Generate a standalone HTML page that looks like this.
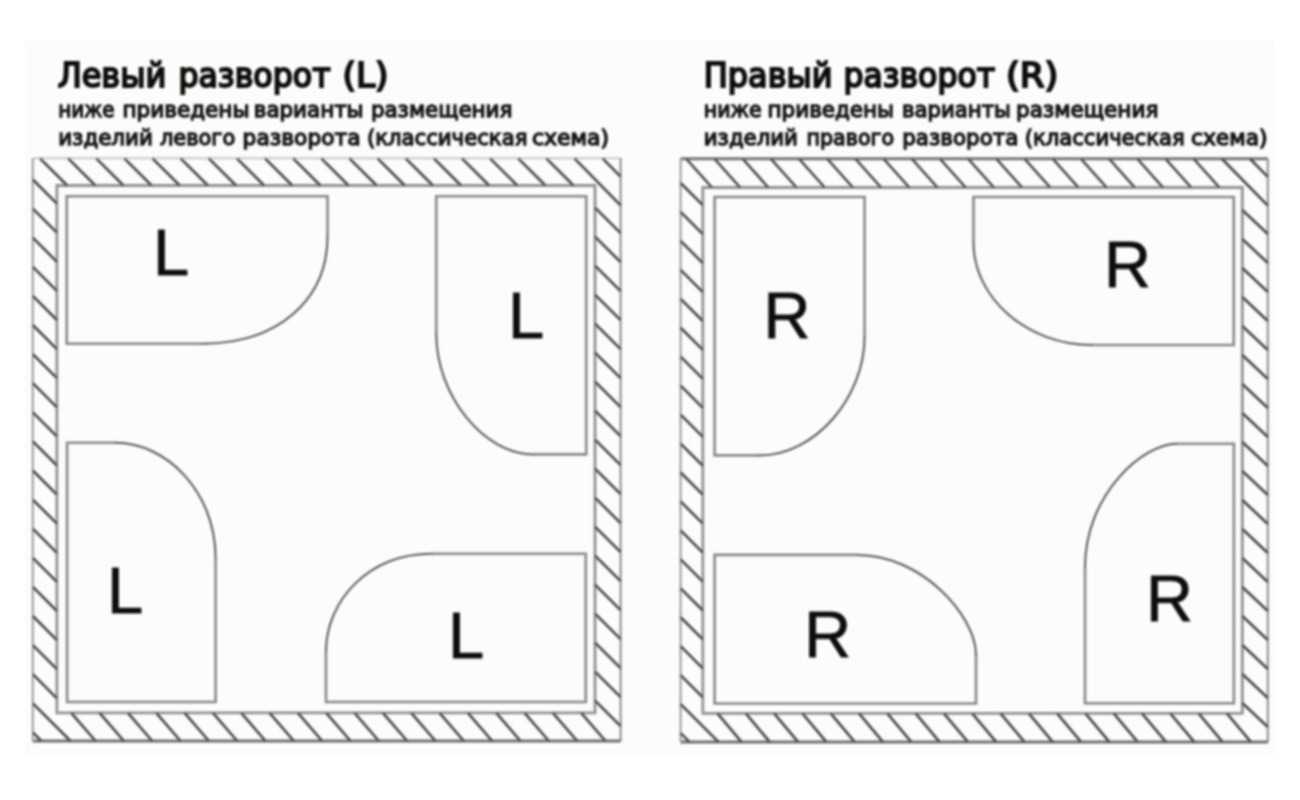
<!DOCTYPE html>
<html lang="ru">
<head>
<meta charset="utf-8">
<title>Левый и правый разворот</title>
<style>
html,body{margin:0;padding:0;background:#fff;}
body{width:1300px;height:800px;overflow:hidden;}
svg{display:block;}
.t{font-family:"DejaVu Sans","Liberation Sans",sans-serif;fill:#0c0c0c;}
.h1{font-size:33.4px;stroke:#0c0c0c;stroke-width:2.0px;}
.h2{font-size:21.8px;fill:#181818;stroke:#181818;stroke-width:1.35px;}
.big{font-family:"Liberation Sans",sans-serif;font-size:65px;fill:#111;stroke:#111;stroke-width:0.8px;}
</style>
</head>
<body>
<svg width="1300" height="800" viewBox="0 0 1300 800">
<defs>
<filter id="b1" x="-2%" y="-2%" width="104%" height="104%"><feGaussianBlur stdDeviation="1.0"/></filter>
<filter id="b2" x="-2%" y="-10%" width="104%" height="120%"><feGaussianBlur stdDeviation="0.95"/></filter>
</defs>
<rect x="0" y="0" width="1300" height="800" fill="#ffffff"/>
<rect x="25" y="41" width="1249" height="715" fill="#fcfcfa"/>

<g filter="url(#b1)" fill="none" stroke-linecap="butt">
<path d="M32.8,158.3 L620.6,158.3" stroke="#c8c8c8" stroke-width="2.0"/>
<path d="M620.6,158.3 L620.6,741" stroke="#8a8a8a" stroke-width="2.0"/>
<path d="M620.6,741 L32.8,741" stroke="#6e6e6e" stroke-width="3.0"/>
<path d="M32.8,741 L32.8,158.3" stroke="#9a9a9a" stroke-width="2.0"/>
<path d="M680.6,158.75 L1267.8,158.75" stroke="#777777" stroke-width="3.0"/>
<path d="M1267.8,158.75 L1267.8,741.9" stroke="#8a8a8a" stroke-width="2.0"/>
<path d="M1267.8,741.9 L680.6,741.9" stroke="#6e6e6e" stroke-width="3.0"/>
<path d="M680.6,741.9 L680.6,158.75" stroke="#9a9a9a" stroke-width="2.0"/>
<path d="M56.9,185.5 H595 V712.8 H56.9 Z" stroke="#929292" stroke-width="2.8"/>
<path d="M702.8,187.5 H1242.3 V713.4 H702.8 Z" stroke="#929292" stroke-width="2.8"/>
<path d="M40,158.3 L67.2,185.5 M68.13,158.3 L95.33,185.5 M96.26,158.3 L123.46,185.5 M124.39,158.3 L151.59,185.5 M152.52,158.3 L179.72,185.5 M180.65,158.3 L207.85,185.5 M208.78,158.3 L235.98,185.5 M236.91,158.3 L264.11,185.5 M265.04,158.3 L292.24,185.5 M293.17,158.3 L320.37,185.5 M321.3,158.3 L348.5,185.5 M349.43,158.3 L376.63,185.5 M377.56,158.3 L404.76,185.5 M405.69,158.3 L432.89,185.5 M433.82,158.3 L461.02,185.5 M461.95,158.3 L489.15,185.5 M490.08,158.3 L517.28,185.5 M518.21,158.3 L545.41,185.5 M546.34,158.3 L573.54,185.5 M574.47,158.3 L620.6,205.35 M602.6,158.3 L620.6,176.66 M32.8,179.5 L56.9,203.6 M32.8,208.6 L56.9,232.7 M32.8,237.7 L56.9,261.8 M32.8,266.8 L56.9,290.9 M32.8,295.9 L56.9,320 M32.8,325 L56.9,349.1 M32.8,354.1 L56.9,378.2 M32.8,383.2 L56.9,407.3 M32.8,412.3 L56.9,436.4 M32.8,441.4 L56.9,465.5 M32.8,470.5 L56.9,494.6 M32.8,499.6 L56.9,523.7 M32.8,528.7 L56.9,552.8 M32.8,557.8 L56.9,581.9 M32.8,586.9 L56.9,611 M32.8,616 L56.9,640.1 M32.8,645.1 L56.9,669.2 M32.8,674.2 L56.9,698.3 M32.8,703.3 L70.5,741 M32.8,732.4 L41.4,741 M71.25,712.8 L95.55,741 M99.58,712.8 L123.88,741 M127.91,712.8 L152.21,741 M156.24,712.8 L180.54,741 M184.57,712.8 L208.87,741 M212.9,712.8 L237.2,741 M241.23,712.8 L265.53,741 M269.56,712.8 L293.86,741 M297.89,712.8 L322.19,741 M326.22,712.8 L350.52,741 M354.55,712.8 L378.85,741 M382.88,712.8 L407.18,741 M411.21,712.8 L435.51,741 M439.54,712.8 L463.84,741 M467.87,712.8 L492.17,741 M496.2,712.8 L520.5,741 M524.53,712.8 L548.83,741 M552.86,712.8 L577.16,741 M581.19,712.8 L605.49,741 M595,207.6 L620.6,233.2 M595,236.6 L620.6,262.2 M595,265.6 L620.6,291.2 M595,294.6 L620.6,320.2 M595,323.6 L620.6,349.2 M595,352.6 L620.6,378.2 M595,381.6 L620.6,407.2 M595,410.6 L620.6,436.2 M595,439.6 L620.6,465.2 M595,468.6 L620.6,494.2 M595,497.6 L620.6,523.2 M595,526.6 L620.6,552.2 M595,555.6 L620.6,581.2 M595,584.6 L620.6,610.2 M595,613.6 L620.6,639.2 M595,642.6 L620.6,668.2 M595,671.6 L620.6,697.2 M595,700.6 L620.6,726.2" stroke="#484848" stroke-width="2.6"/>
<path d="M686.25,158.75 L711.92,187.5 M714.44,158.75 L740.11,187.5 M742.63,158.75 L768.3,187.5 M770.82,158.75 L796.49,187.5 M799.01,158.75 L824.68,187.5 M827.2,158.75 L852.87,187.5 M855.39,158.75 L881.06,187.5 M883.58,158.75 L909.25,187.5 M911.77,158.75 L937.44,187.5 M939.96,158.75 L965.63,187.5 M968.15,158.75 L993.82,187.5 M996.34,158.75 L1022.01,187.5 M1024.53,158.75 L1050.2,187.5 M1052.72,158.75 L1078.39,187.5 M1080.91,158.75 L1106.58,187.5 M1109.1,158.75 L1134.77,187.5 M1137.29,158.75 L1162.96,187.5 M1165.48,158.75 L1191.15,187.5 M1193.67,158.75 L1219.34,187.5 M1221.86,158.75 L1267.8,205.61 M1250.05,158.75 L1267.8,176.85 M680.6,183 L702.8,205.2 M680.6,211.95 L702.8,234.15 M680.6,240.9 L702.8,263.1 M680.6,269.85 L702.8,292.05 M680.6,298.8 L702.8,321 M680.6,327.75 L702.8,349.95 M680.6,356.7 L702.8,378.9 M680.6,385.65 L702.8,407.85 M680.6,414.6 L702.8,436.8 M680.6,443.55 L702.8,465.75 M680.6,472.5 L702.8,494.7 M680.6,501.45 L702.8,523.65 M680.6,530.4 L702.8,552.6 M680.6,559.35 L702.8,581.55 M680.6,588.3 L702.8,610.5 M680.6,617.25 L702.8,639.45 M680.6,646.2 L702.8,668.4 M680.6,675.15 L702.8,697.35 M680.6,704.1 L718.4,741.9 M680.6,733.05 L689.45,741.9 M717.5,713.4 L741.4,741.9 M745.8,713.4 L769.7,741.9 M774.1,713.4 L798,741.9 M802.4,713.4 L826.3,741.9 M830.7,713.4 L854.6,741.9 M859,713.4 L882.9,741.9 M887.3,713.4 L911.2,741.9 M915.6,713.4 L939.5,741.9 M943.9,713.4 L967.8,741.9 M972.2,713.4 L996.1,741.9 M1000.5,713.4 L1024.4,741.9 M1028.8,713.4 L1052.7,741.9 M1057.1,713.4 L1081,741.9 M1085.4,713.4 L1109.3,741.9 M1113.7,713.4 L1137.6,741.9 M1142,713.4 L1165.9,741.9 M1170.3,713.4 L1194.2,741.9 M1198.6,713.4 L1222.5,741.9 M1226.9,713.4 L1250.8,741.9 M1242.3,210 L1267.8,234 M1242.3,239 L1267.8,263 M1242.3,268 L1267.8,292 M1242.3,297 L1267.8,321 M1242.3,326 L1267.8,350 M1242.3,355 L1267.8,379 M1242.3,384 L1267.8,408 M1242.3,413 L1267.8,437 M1242.3,442 L1267.8,466 M1242.3,471 L1267.8,495 M1242.3,500 L1267.8,524 M1242.3,529 L1267.8,553 M1242.3,558 L1267.8,582 M1242.3,587 L1267.8,611 M1242.3,616 L1267.8,640 M1242.3,645 L1267.8,669 M1242.3,674 L1267.8,698 M1242.3,703 L1267.8,727" stroke="#484848" stroke-width="2.6"/>
<path d="M202.48,343.75 H66.75 V196.25 H327.5 V236.34" stroke="#888888" stroke-width="2.6" stroke-linejoin="miter"/>
<path d="M327.5,236.34 C327.5,298.9 278.98,343.75 202.48,343.75" stroke="#585858" stroke-width="2.0" stroke-linecap="round"/>
<path d="M436.25,333.7 V196.25 H586.25 V454.4 H532.78" stroke="#888888" stroke-width="2.6" stroke-linejoin="miter"/>
<path d="M532.78,454.4 C484.93,454.4 436.25,396.55 436.25,333.7" stroke="#585858" stroke-width="2.0" stroke-linecap="round"/>
<path d="M215.6,558.27 V702 H67.1 V442.8 H115.69" stroke="#888888" stroke-width="2.6" stroke-linejoin="miter"/>
<path d="M115.69,442.8 C166.5,442.8 215.6,491.71 215.6,558.27" stroke="#585858" stroke-width="2.0" stroke-linecap="round"/>
<path d="M326,651.5 V702 H585.8 V553.75 H431.99" stroke="#888888" stroke-width="2.6" stroke-linejoin="miter"/>
<path d="M431.99,553.75 C367.67,553.75 326,601.56 326,651.5" stroke="#585858" stroke-width="2.0" stroke-linecap="round"/>
<path d="M758.97,455.4 H714.6 V197 H864.6 V336.39" stroke="#888888" stroke-width="2.6" stroke-linejoin="miter"/>
<path d="M864.6,336.39 C864.6,396.71 816,455.4 758.97,455.4" stroke="#585858" stroke-width="2.0" stroke-linecap="round"/>
<path d="M973.5,242.53 V197 H1233.75 V345 H1091.79" stroke="#888888" stroke-width="2.6" stroke-linejoin="miter"/>
<path d="M1091.79,345 C1027.71,345 973.5,298.4 973.5,242.53" stroke="#585858" stroke-width="2.0" stroke-linecap="round"/>
<path d="M976,655.01 V703.5 H714.6 V554.9 H857.83" stroke="#888888" stroke-width="2.6" stroke-linejoin="miter"/>
<path d="M857.83,554.9 C921.4,554.9 976,615.69 976,655.01" stroke="#585858" stroke-width="2.0" stroke-linecap="round"/>
<path d="M1085,567.51 V703.3 H1233.9 V443.75 H1176.88" stroke="#888888" stroke-width="2.6" stroke-linejoin="miter"/>
<path d="M1176.88,443.75 C1143.26,443.75 1085,493.94 1085,567.51" stroke="#585858" stroke-width="2.0" stroke-linecap="round"/>
</g>
<g filter="url(#b2)">
<text class="t h1" id="w0" x="57.7" y="86.9" textLength="108.51" lengthAdjust="spacingAndGlyphs">Левый</text>
<text class="t h1" id="w1" x="178.4" y="86.9" textLength="152.22" lengthAdjust="spacingAndGlyphs">разворот</text>
<text class="t h1" id="w2" x="342.5" y="86.9" textLength="45.99" lengthAdjust="spacingAndGlyphs">(L)</text>
<text class="t h2" id="w3" x="58.2" y="117.1" textLength="56.21" lengthAdjust="spacingAndGlyphs">ниже</text>
<text class="t h2" id="w4" x="122.4" y="117.1" textLength="127.12" lengthAdjust="spacingAndGlyphs">приведены</text>
<text class="t h2" id="w5" x="253.8" y="117.1" textLength="109.73" lengthAdjust="spacingAndGlyphs">варианты</text>
<text class="t h2" id="w6" x="370.9" y="117.1" textLength="141.51" lengthAdjust="spacingAndGlyphs">размещения</text>
<text class="t h2" id="w7" x="58.2" y="144.5" textLength="94.64" lengthAdjust="spacingAndGlyphs">изделий</text>
<text class="t h2" id="w8" x="159.9" y="144.5" textLength="75.31" lengthAdjust="spacingAndGlyphs">левого</text>
<text class="t h2" id="w9" x="242.6" y="144.5" textLength="117.92" lengthAdjust="spacingAndGlyphs">разворота</text>
<text class="t h2" id="w10" x="366.9" y="144.5" textLength="160.52" lengthAdjust="spacingAndGlyphs">(классическая</text>
<text class="t h2" id="w11" x="532" y="144.5" textLength="77" lengthAdjust="spacingAndGlyphs">схема)</text>
<text class="t h1" id="w12" x="703.8" y="86.9" textLength="128.75" lengthAdjust="spacingAndGlyphs">Правый</text>
<text class="t h1" id="w13" x="843.5" y="86.9" textLength="151.51" lengthAdjust="spacingAndGlyphs">разворот</text>
<text class="t h1" id="w14" x="1006" y="86.9" textLength="52.23" lengthAdjust="spacingAndGlyphs">(R)</text>
<text class="t h2" id="w15" x="703.8" y="117.1" textLength="57.83" lengthAdjust="spacingAndGlyphs">ниже</text>
<text class="t h2" id="w16" x="767.6" y="117.1" textLength="126.39" lengthAdjust="spacingAndGlyphs">приведены</text>
<text class="t h2" id="w17" x="902" y="117.1" textLength="108.82" lengthAdjust="spacingAndGlyphs">варианты</text>
<text class="t h2" id="w18" x="1016" y="117.1" textLength="142.39" lengthAdjust="spacingAndGlyphs">размещения</text>
<text class="t h2" id="w19" x="703.8" y="144.5" textLength="94.14" lengthAdjust="spacingAndGlyphs">изделий</text>
<text class="t h2" id="w20" x="806.5" y="144.5" textLength="87.53" lengthAdjust="spacingAndGlyphs">правого</text>
<text class="t h2" id="w21" x="902.25" y="144.5" textLength="116.07" lengthAdjust="spacingAndGlyphs">разворота</text>
<text class="t h2" id="w22" x="1024.75" y="144.5" textLength="159.86" lengthAdjust="spacingAndGlyphs">(классическая</text>
<text class="t h2" id="w23" x="1191" y="144.5" textLength="76.53" lengthAdjust="spacingAndGlyphs">схема)</text>
<text class="big" x="152.9" y="274.7">L</text>
<text class="big" x="507.9" y="338.45">L</text>
<text class="big" x="107" y="612.8">L</text>
<text class="big" x="447.9" y="657.5">L</text>
<text class="big" x="763.4" y="338.45">R</text>
<text class="big" x="1103.9" y="287.3">R</text>
<text class="big" x="804.15" y="657.2">R</text>
<text class="big" x="1146" y="620.7">R</text>
</g>
</svg>
</body>
</html>
